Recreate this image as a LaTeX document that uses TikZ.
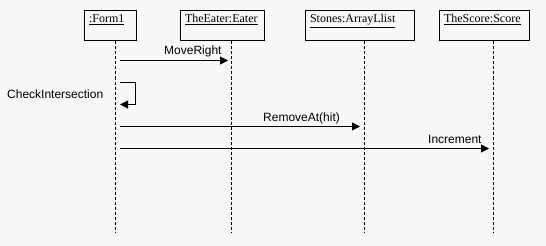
\documentclass[tikz,border=0pt]{standalone}
\usepackage{fontspec}
\setmainfont{Liberation Serif}
\newfontfamily\msgfont{Liberation Sans}
\usetikzlibrary{arrows.meta}
\definecolor{canvas}{HTML}{F8F8F8}
\begin{document}
\begin{tikzpicture}[x=1pt,y=-1pt,
  objbox/.style={draw, line width=1pt, anchor=north west, align=left,
    inner xsep=5pt, inner ysep=3pt, text height=9pt, text depth=15pt,
    font=\fontsize{12pt}{14pt}\selectfont},
  lifeline/.style={line width=1pt, dash pattern=on 3pt off 2pt},
  msg/.style={line width=1pt, -{Triangle[length=8pt,width=8pt]}},
  msglabel/.style={font=\msgfont\fontsize{12pt}{14pt}\selectfont, inner sep=0pt}
]
% canvas
\fill[canvas] (0,0) rectangle (546,246);
\useasboundingbox (0,0) rectangle (546,246);

% objects
\node[objbox, text width=42pt] (form) at (83.5,10.5) {\underline{:Form1}};
\node[objbox, text width=74pt] (eater) at (179.5,10.5) {\underline{TheEater:Eater}};
\node[objbox, text width=99pt] (stones) at (304.5,10.5) {\underline{Stones:ArrayLlist}};
\node[objbox, text width=80pt] (score) at (438.5,10.5) {\underline{TheScore:Score}};

% lifeline ends
\coordinate (formend) at (115.5,233);
\coordinate (eaterend) at (231.5,233);
\coordinate (stonesend) at (364.5,233);
\coordinate (scoreend) at (493.5,233);

\draw[lifeline] (form.south -| formend) -- (formend);
\draw[lifeline] (eater.south -| eaterend) -- (eaterend);
\draw[lifeline] (stones.south -| stonesend) -- (stonesend);
\draw[lifeline] (score.south -| scoreend) -- (scoreend);

% message end points
\coordinate (m1s) at (120,60.5);  \coordinate (m1e) at (228,60.5);
\coordinate (m2s) at (120,82.5);  \coordinate (m2e) at (120,104.5);
\coordinate (m3s) at (120,126.5); \coordinate (m3e) at (360,126.5);
\coordinate (m4s) at (120,148.5); \coordinate (m4e) at (489,148.5);

% messages
\draw[msg] (m1s) -- (m1e);
\node[msglabel, anchor=base west] (l1) at (164,55) {MoveRight};

\draw[msg] (m2s) -- ++(15,0) |- (m2e);
\node[msglabel, anchor=base west] (l2) at (7,99) {CheckIntersection};

\draw[msg] (m3s) -- (m3e);
\node[msglabel, anchor=base west] (l3) at (263,121) {RemoveAt(hit)};

\draw[msg] (m4s) -- (m4e);
\node[msglabel, anchor=base west] (l4) at (428,143) {Increment};
\end{tikzpicture}
\end{document}
